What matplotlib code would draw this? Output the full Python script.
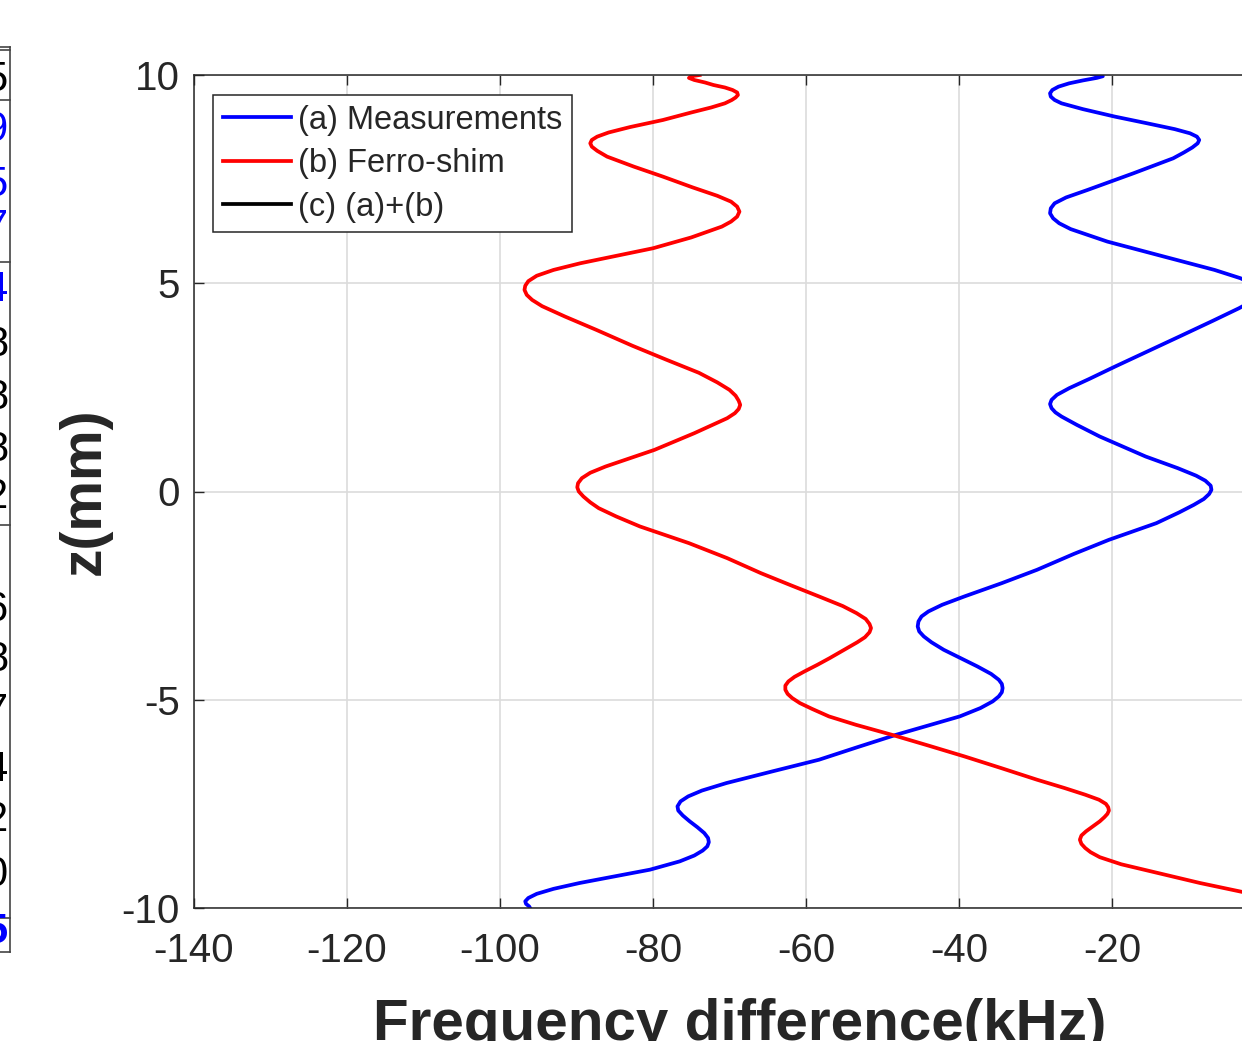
import matplotlib
matplotlib.use("Agg")
import matplotlib.pyplot as plt
from matplotlib.lines import Line2D

plt.rcParams['font.family'] = ['Liberation Sans', 'DejaVu Sans']
plt.rcParams['axes.unicode_minus'] = False

# (a) Measurements: z (mm) and frequency difference (kHz)
z_meas = [10.02, 10.0, 9.97, 9.93, 9.87, 9.8, 9.72, 9.64, 9.56, 9.48, 9.4, 9.32, 9.18, 9.0,
          8.84, 8.7, 8.6, 8.52, 8.44, 8.36, 8.26, 8.14, 8.0, 7.64, 7.24, 7.06, 6.92, 6.8,
          6.68, 6.56, 6.44, 6.3, 6.0, 5.64, 5.32, 5.12, 4.96, 4.82, 4.66, 4.52, 4.4, 4.1,
          3.72, 3.36, 3.0, 2.7, 2.48, 2.32, 2.2, 2.1, 2.0, 1.9, 1.8, 1.6, 1.32, 0.84, 0.56,
          0.38, 0.26, 0.14, 0.04, -0.06, -0.18, -0.32, -0.5, -0.76, -1.16, -1.5, -1.88, -2.2,
          -2.52, -2.72, -2.88, -3.0, -3.12, -3.24, -3.36, -3.48, -3.62, -3.8, -4.0, -4.2,
          -4.38, -4.52, -4.62, -4.72, -4.82, -4.92, -5.04, -5.2, -5.4, -5.84, -6.14, -6.44,
          -6.72, -7.0, -7.18, -7.32, -7.44, -7.56, -7.66, -7.78, -7.92, -8.06, -8.2, -8.32,
          -8.42, -8.52, -8.62, -8.74, -8.88, -9.08, -9.24, -9.4, -9.54, -9.66, -9.76, -9.84,
          -9.9, -9.96, -10.02, -10.06]
f_meas = [-22.6, -21.6, -21.2, -22.0, -23.8, -25.6, -27.0, -27.8, -28.1, -28.0, -27.5, -26.6,
          -23.8, -19.6, -15.4, -11.8, -9.8, -8.9, -8.6, -8.8, -9.5, -10.6, -12.0, -17.2,
          -23.2, -26.0, -27.5, -28.0, -28.1, -27.7, -26.9, -25.4, -20.6, -13.2, -6.6, -3.2,
          -1.4, -0.8, -1.2, -2.2, -3.4, -6.8, -11.2, -15.4, -19.6, -23.0, -25.6, -27.2,
          -27.9, -28.1, -27.9, -27.4, -26.6, -24.6, -21.6, -15.6, -11.4, -9.0, -7.8, -7.1,
          -7.0, -7.3, -8.0, -9.3, -11.2, -14.2, -20.4, -25.0, -29.8, -34.4, -39.3, -42.2,
          -44.0, -44.9, -45.3, -45.4, -45.2, -44.6, -43.6, -42.0, -39.8, -37.6, -35.8, -34.8,
          -34.4, -34.3, -34.4, -34.8, -35.6, -37.2, -39.9, -48.2, -53.3, -58.3, -64.4, -70.4,
          -73.6, -75.4, -76.4, -76.8, -76.7, -76.1, -75.2, -74.2, -73.3, -72.8, -72.7, -72.9,
          -73.5, -74.6, -76.5, -80.4, -85.0, -89.6, -93.0, -95.2, -96.3, -96.7, -96.6, -96.2,
          -96.0, -96.3]

# (b) Ferro-shim
z_shim = [10.0, 9.97, 9.93, 9.88, 9.82, 9.76, 9.7, 9.64, 9.58, 9.52, 9.46, 9.4, 9.32, 9.22,
          9.1, 8.92, 8.75, 8.62, 8.52, 8.44, 8.36, 8.28, 8.18, 8.04, 7.8, 7.56, 7.3, 7.1,
          6.96, 6.84, 6.72, 6.6, 6.48, 6.36, 6.1, 5.84, 5.65, 5.48, 5.32, 5.18, 5.05, 4.94,
          4.84, 4.72, 4.6, 4.45, 4.2, 3.88, 3.5, 3.16, 2.85, 2.62, 2.44, 2.3, 2.18, 2.08,
          1.98, 1.88, 1.76, 1.6, 1.4, 1.2, 1.0, 0.8, 0.6, 0.45, 0.32, 0.2, 0.1, 0.0, -0.12,
          -0.26, -0.4, -0.6, -0.84, -1.24, -1.6, -1.96, -2.25, -2.52, -2.75, -2.92, -3.06,
          -3.18, -3.28, -3.38, -3.5, -3.62, -3.8, -4.0, -4.16, -4.32, -4.45, -4.56, -4.66,
          -4.76, -4.86, -4.96, -5.08, -5.22, -5.4, -5.6, -5.84, -6.1, -6.36, -6.64, -6.92,
          -7.12, -7.28, -7.4, -7.5, -7.58, -7.66, -7.74, -7.82, -7.92, -8.04, -8.16, -8.26,
          -8.36, -8.46, -8.56, -8.66, -8.78, -8.95, -9.16, -9.4, -9.6, -9.7]
f_shim = [-73.9, -75.0, -75.3, -74.6, -73.2, -72.1, -70.6, -69.6, -69.0, -68.9, -69.2, -69.7,
          -70.6, -72.4, -75.0, -78.7, -83.0, -85.8, -87.3, -88.0, -88.2, -88.0, -87.3, -86.0,
          -82.5, -78.7, -74.8, -71.6, -69.8, -69.0, -68.7, -69.0, -69.8, -71.0, -75.0, -80.0,
          -85.0, -89.5, -93.0, -95.2, -96.3, -96.7, -96.8, -96.5, -95.8, -94.5, -91.5, -87.4,
          -82.7, -78.2, -74.0, -71.6, -70.0, -69.2, -68.8, -68.6, -68.8, -69.3, -70.3, -72.2,
          -74.6, -77.2, -79.8, -83.0, -86.2, -88.2, -89.3, -89.8, -89.9, -89.7, -89.1, -88.2,
          -87.1, -84.8, -81.7, -75.3, -70.3, -65.9, -62.0, -58.3, -55.2, -53.4, -52.2, -51.7,
          -51.5, -51.7, -52.3, -53.3, -55.0, -56.9, -58.5, -60.2, -61.5, -62.3, -62.7, -62.7,
          -62.4, -61.8, -60.8, -59.2, -57.0, -53.5, -48.8, -44.0, -39.3, -34.5, -29.8, -26.2,
          -23.5, -21.7, -20.8, -20.5, -20.4, -20.6, -21.0, -21.6, -22.5, -23.4, -24.0, -24.2,
          -24.0, -23.5, -22.8, -21.6, -18.8, -14.0, -8.5, -3.4, -0.5]

series_labels = ['(a) Measurements', '(b) Ferro-shim', '(c) (a)+(b)']
x_ticks = [-140, -120, -100, -80, -60, -40, -20]
y_ticks = [-10, -5, 0, 5, 10]

# neighbouring table strip at the left edge
strip_digits = ['5', '9', '5', '7', '4', '8', '8', '8', '2', '6', '8', '7', '4', '2', '0', '5']
strip_colors = ['k', 'b', 'b', 'b', 'b', 'k', 'k', 'k', 'k', 'k', 'k', 'k', 'k', 'k', 'k', 'b']
strip_y = [80, 130, 185, 228, 290, 345, 398, 450, 497, 610, 660, 712, 770, 820, 875, 932]
strip_rules = [47, 50, 100, 262, 525, 918, 952]

W, H = 1242, 1041
fig = plt.figure(figsize=(W / 100, H / 100), dpi=100)
ax = fig.add_axes([194 / W, (H - 908) / H, (1265 - 194) / W, 833 / H])

dark = '#262626'
ax.plot(f_meas, z_meas, color='#0000ff', lw=2.7, label=series_labels[0])
ax.plot(f_shim, z_shim, color='#ff0000', lw=2.7, label=series_labels[1])
ax.plot([], [], color='k', lw=2.7, label=series_labels[2])

ax.set_xlim(-140, 0)
ax.set_ylim(-10, 10)
ax.set_xticks(x_ticks)
ax.set_yticks(y_ticks)
ax.grid(True, color='#dcdcdc', lw=1.2)
ax.set_axisbelow(True)
ax.tick_params(direction='in', length=7, width=1.0, colors=dark, labelsize=29,
               top=True, right=True)
ax.tick_params(axis='x', pad=17)
ax.tick_params(axis='y', pad=10)
for s in ax.spines.values():
    s.set_color(dark)
    s.set_linewidth(1.1)

ax.set_xlabel('Frequency difference(kHz)', fontsize=42, fontweight='bold', color=dark)
ax.xaxis.set_label_coords((740 - 194) / 1071, (908 - 1040) / 833)
ax.xaxis.label.set_va('baseline')
ax.set_ylabel('z(mm)', fontsize=41, fontweight='bold', color=dark)
ax.yaxis.set_label_coords((100 - 194) / 1071, 0.5)
ax.yaxis.label.set_va('baseline')

leg = ax.legend(loc='upper left', bbox_to_anchor=((213 - 194) / 1071, (908 - 95) / 833),
                borderaxespad=0, fontsize=23.5, handlelength=2.1, handletextpad=0.2,
                borderpad=0.3, labelspacing=0.38, fancybox=False, framealpha=1)
leg.get_frame().set_edgecolor(dark)
leg.get_frame().set_linewidth(1.1)
for t in leg.get_texts():
    t.set_color(dark)

# table fragment on the left
fig.add_artist(Line2D([10 / W, 10 / W], [1 - 47 / H, 1 - 952 / H], color='#444444', lw=1.2))
for r in strip_rules:
    fig.add_artist(Line2D([0, 10 / W], [1 - r / H, 1 - r / H], color='#444444', lw=1.2))
for d, c, y in zip(strip_digits, strip_colors, strip_y):
    fig.text(8 / W, 1 - y / H, d, color=c, fontsize=30, ha='right', va='center',
             fontweight='bold' if y == 932 else 'normal')

fig.savefig('out.png', dpi=100)
